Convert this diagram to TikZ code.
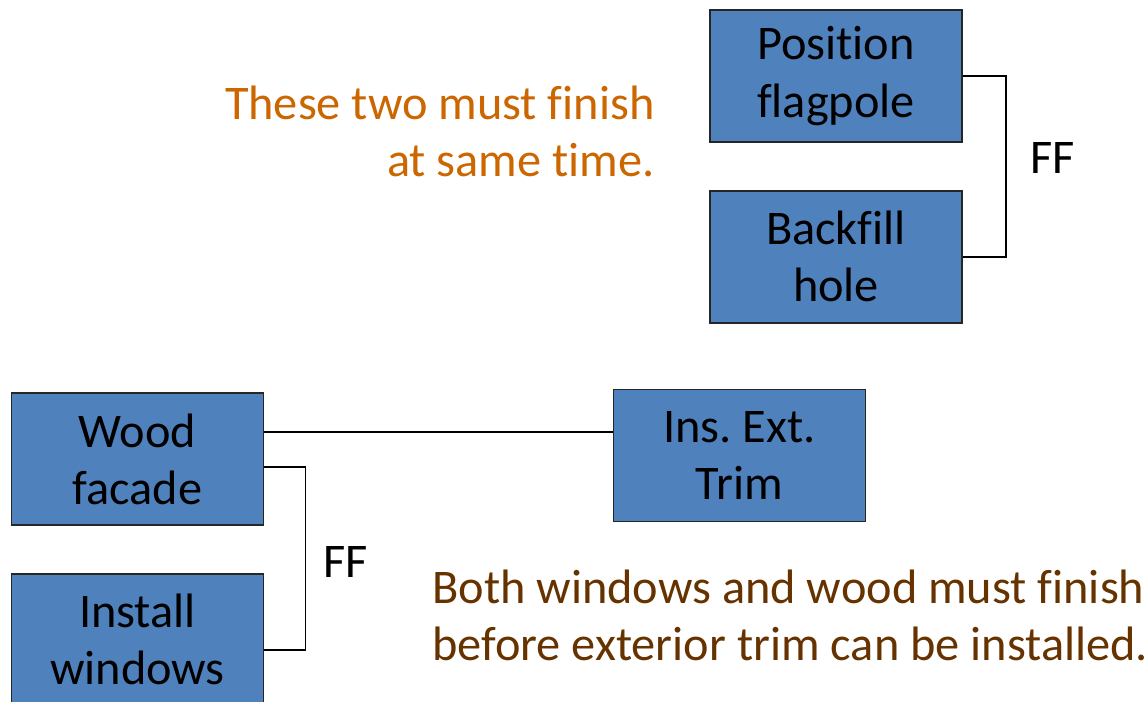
\documentclass[tikz,border=0pt]{standalone}
\usepackage{fontspec}
\setmainfont{Carlito}[Ligatures=NoCommon]
\usepackage{tikz}
\usetikzlibrary{positioning}
\definecolor{boxblue}{HTML}{4F81BD}
\definecolor{noteorange}{HTML}{CC6600}
\definecolor{notebrown}{HTML}{663300}
\frenchspacing

\begin{document}
\begin{tikzpicture}[
    task/.style={draw=black!85, line width=1pt, fill=boxblue, minimum width=5.04cm,
      minimum height=2.64cm, align=center, font=\fontsize{27.5}{32.5}\selectfont},
    link/.style={draw=black, line width=1pt},
    note/.style={inner sep=0pt, font=\fontsize{27.5}{32.5}\selectfont}
  ]
  \useasboundingbox (0,0) rectangle (22.96,-14.04);

  % finish-to-finish pair, top
  \node[task] (pos) at (16.72,-1.52) {Position\\flagpole};
  \node[task, below=0.94cm of pos] (back) {Backfill\\hole};
  \node[note] (ff1) at (21.06,-3.16) {FF};
  \node[note, text=noteorange, align=right, anchor=east] (txt1) at (13.1,-2.63)
    {These two must finish\\at same time.};

  % bottom group
  \node[task] (wood) at (2.75,-9.18) {Wood\\facade};
  \node[task, below=0.94cm of wood] (win) {Install\\windows};
  \node[task] (trim) at (14.79,-9.11) {Ins. Ext.\\Trim};
  \node[note] (ff2) at (6.92,-11.24) {FF};
  \node[note, text=notebrown, align=left, anchor=west] (txt2) at (8.64,-12.3)
    {Both windows and wood must finish\\before exterior trim can be installed.};

  \draw[link] (pos.east) -- ++(0.86,0) |- (back.east);
  \draw[link] ([yshift=0.54cm]wood.east) -- ([yshift=0.54cm]wood.east -| trim.west);
  \draw[link] ([yshift=-0.16cm]wood.east) -- ++(0.82,0) |- ([yshift=-0.2cm]win.east);
\end{tikzpicture}
\end{document}
